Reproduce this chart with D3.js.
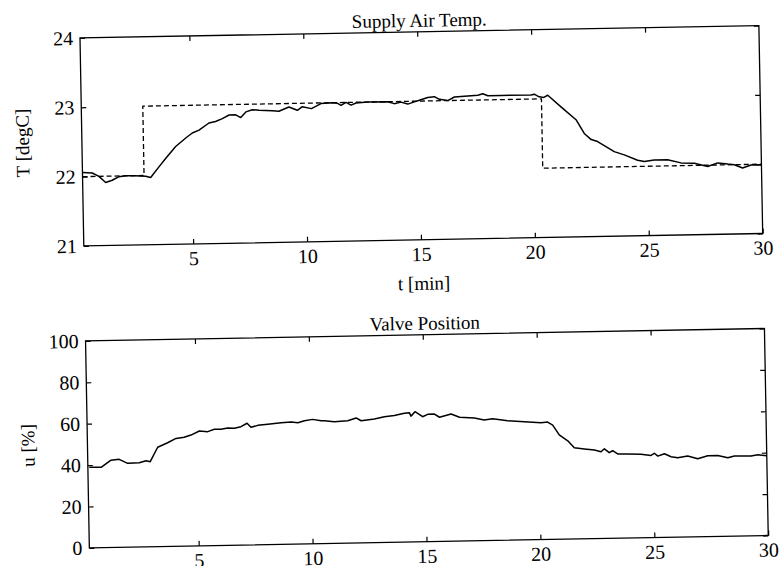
<!DOCTYPE html>
<html>
<head>
<meta charset="utf-8">
<script src="https://cdn.jsdelivr.net/npm/d3@7"></script>
<style>
  html, body { margin: 0; padding: 0; background: #fff; }
  svg { display: block; }
  text { font-family: "Liberation Serif", "DejaVu Serif", serif; fill: #000; }
</style>
</head>
<body>
<svg id="chart" width="781" height="566"></svg>
<script>
// ---- data ----
const xTicks = [5, 10, 15, 20, 25, 30];
const tempTicks = [21, 22, 23, 24];
const valveTicks = [0, 20, 40, 60, 80, 100];

const tSet = [0.2, 2.9, 2.9, 20.4, 20.4, 30];
const TSet = [22, 22, 23, 23, 22, 22];

const tTemp = [0.2, 0.63, 0.92, 1.21, 1.50, 1.80, 2.09, 2.5, 2.97, 3.19, 3.56, 3.86, 4.31, 4.76, 5.05, 5.35,
  5.79, 6.08, 6.38, 6.68, 6.97, 7.19, 7.42, 7.70, 8.0, 8.58, 8.87, 9.31, 9.68, 9.90, 10.3, 10.72,
  11.2, 11.45, 11.60, 11.82, 12.04, 12.26, 12.77, 13.65, 13.94, 14.23, 14.53, 14.82, 15.11, 15.41, 15.70,
  15.92, 16.29, 16.58, 17.17, 17.61, 17.83, 18.05, 18.63, 19.94, 20.09, 20.30, 20.5, 20.68, 21.25, 21.90,
  22.25, 22.55, 22.83, 23.55, 23.99, 24.57, 24.86, 25.30, 25.89, 26.47, 27.06, 27.64, 28.08, 28.52,
  28.81, 29.17, 29.54, 30];
const TMeas = [22.06, 22.05, 22.0, 21.91, 21.94, 21.99, 22.0, 22.0, 21.99, 21.97, 22.12, 22.24, 22.41, 22.53, 22.60, 22.64,
  22.74, 22.76, 22.80, 22.85, 22.85, 22.81, 22.89, 22.92, 22.91, 22.90, 22.89, 22.95, 22.90, 22.95, 22.92, 22.99,
  23.0, 22.99, 22.96, 23.0, 22.96, 22.99, 23.0, 23.0, 22.97, 22.99, 22.96, 22.99, 23.02, 23.05, 23.06,
  23.02, 23.0, 23.05, 23.06, 23.07, 23.09, 23.06, 23.06, 23.06, 23.07, 23.03, 23.02, 23.05, 22.88, 22.69,
  22.49, 22.40, 22.37, 22.22, 22.17, 22.09, 22.07, 22.09, 22.09, 22.04, 22.03, 21.98, 22.03, 22.01,
  22.0, 21.95, 21.99, 21.99];

const tValve = [0.26, 0.78, 1.22, 1.58, 1.95, 2.46, 2.76, 2.94, 3.28, 3.72, 4.09, 4.45, 4.75, 5.12, 5.49, 5.78,
  6.07, 6.37, 6.66, 6.95, 7.22, 7.39, 7.69, 8.13, 8.72, 9.16, 9.45, 9.74, 10.10, 10.47, 10.61, 11.05, 11.64,
  12.01, 12.23, 12.81, 13.25, 13.69, 14.13, 14.35, 14.42, 14.60, 14.93, 15.15, 15.45, 15.67, 16.18, 16.55,
  17.20, 17.63, 18.0, 18.66, 19.39, 20.12, 20.41, 20.63, 20.91, 21.28, 21.56, 22.0, 22.44, 22.73, 22.88,
  23.09, 23.24, 23.46, 23.90, 24.48, 24.92, 25.07, 25.22, 25.51, 25.80, 26.09, 26.53, 26.97, 27.41, 27.85,
  28.29, 28.58, 29.31, 29.61, 30];
const uValve = [38.9, 38.8, 42.2, 42.5, 40.5, 40.7, 41.6, 41.1, 48.0, 50.1, 52.1, 52.6, 53.6, 55.5, 55.1, 56.2,
  56.1, 56.7, 56.5, 57.2, 58.8, 56.8, 57.7, 58.2, 58.8, 59.0, 58.6, 59.5, 60.1, 59.4, 59.3, 58.8, 59.1,
  60.4, 59.0, 59.7, 60.7, 61.3, 62.2, 62.5, 60.8, 62.9, 60.4, 61.5, 61.6, 60.0, 61.5, 59.8,
  59.3, 58.3, 58.8, 57.7, 57.1, 56.5, 56.7, 55.2, 50.4, 47.5, 44.1, 43.4, 42.8, 41.9, 43.3,
  41.4, 42.3, 40.7, 40.6, 40.4, 39.7, 40.7, 39.3, 40.4, 38.9, 38.3, 39.1, 37.7, 39.0, 39.1,
  37.9, 38.7, 38.5, 39.1, 38.5];

// ---- layout ----
const svg = d3.select("#chart");
const W = 679;
const root = svg.append("g").attr("transform", "rotate(-1.05, 79, 38)");

const x = d3.scaleLinear().domain([0.2, 30]).range([0, W]);

function panel(top, height, yDomain, yTicks, title, yLabel, series) {
  const g = root.append("g").attr("transform", `translate(80,${top})`);
  const y = d3.scaleLinear().domain(yDomain).range([height, 0]);
  const fs = "20px";

  // bottom axis with labels
  const ax = g.append("g").attr("transform", `translate(0,${height})`)
    .call(d3.axisBottom(x).tickValues(xTicks).tickSizeInner(-5).tickSizeOuter(0).tickPadding(7).tickFormat(d3.format("d")));
  // top axis ticks only
  const at = g.append("g")
    .call(d3.axisTop(x).tickValues(xTicks.filter(d => d < 30)).tickSizeInner(-5).tickSizeOuter(0).tickFormat(""));
  // left axis
  const al = g.append("g")
    .call(d3.axisLeft(y).tickValues(yTicks).tickSizeInner(-5).tickSizeOuter(0).tickPadding(7).tickFormat(d3.format("d")));
  // right axis ticks only
  const ar = g.append("g").attr("transform", `translate(${W},0)`)
    .call(d3.axisRight(y).tickValues(yTicks).tickSizeInner(-5).tickSizeOuter(0).tickFormat(""));

  [ax, at, al, ar].forEach(a => {
    a.select(".domain").remove();
    a.selectAll(".tick line").attr("stroke", "#000").attr("stroke-width", 1.2);
    a.selectAll("text").style("font-size", fs).style("font-family", '"Liberation Serif", serif').attr("fill", "#000");
  });

  // frame
  g.append("rect").attr("x", 0).attr("y", 0).attr("width", W).attr("height", height)
    .attr("fill", "none").attr("stroke", "#000").attr("stroke-width", 1.3);

  const line = d3.line().x(d => x(d[0])).y(d => y(d[1]));
  series.forEach(s => {
    g.append("path").datum(d3.zip(s.t, s.v)).attr("d", line)
      .attr("fill", "none").attr("stroke", "#000").attr("stroke-width", s.width)
      .attr("stroke-dasharray", s.dash || null).attr("stroke-linejoin", "round");
  });

  g.append("text").attr("x", W / 2).attr("y", -5).attr("text-anchor", "middle")
    .style("font-size", "19px").text(title);
  g.append("text").attr("transform", `translate(-53,${height / 2}) rotate(-90)`)
    .attr("text-anchor", "middle").style("font-size", "19px").text(yLabel);
  return { g, y };
}

const top1 = panel(38, 208, [21, 24], tempTicks, "Supply Air Temp.", "T [degC]", [
  { t: tSet, v: TSet, width: 1.3, dash: "5,3" },
  { t: tTemp, v: TMeas, width: 1.5 }
]);
top1.g.append("text").attr("x", W / 2).attr("y", 258).attr("text-anchor", "middle")
  .style("font-size", "19px").text("t [min]");

panel(341, 207, [0, 100], valveTicks, "Valve Position", "u [%]", [
  { t: tValve, v: uValve, width: 1.5 }
]);
</script>
</body>
</html>
